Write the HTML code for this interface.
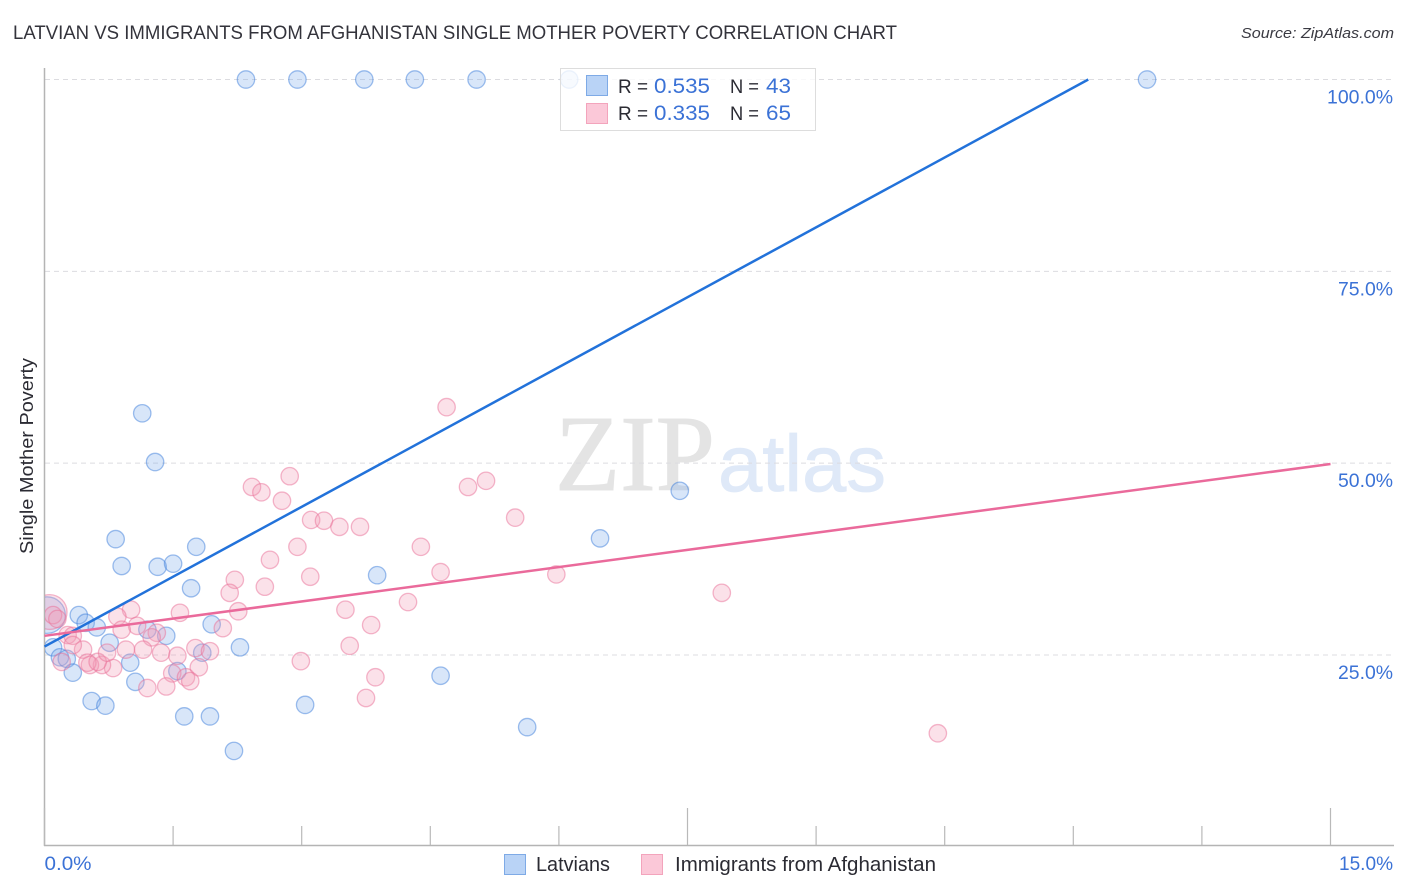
<!DOCTYPE html>
<html>
<head>
<meta charset="utf-8">
<title>Latvian vs Immigrants from Afghanistan Single Mother Poverty Correlation Chart</title>
<style>
html,body{margin:0;padding:0;background:#fff;}
svg{display:block;font-family:"Liberation Sans",sans-serif;}
</style>
</head>
<body>
<svg id="chart" xmlns="http://www.w3.org/2000/svg" width="1406" height="892" viewBox="0 0 1406 892">
  <rect x="0" y="0" width="1406" height="892" fill="#ffffff"/>
  <text x="13" y="39" font-size="19" fill="#33333b" textLength="884" lengthAdjust="spacingAndGlyphs">LATVIAN VS IMMIGRANTS FROM AFGHANISTAN SINGLE MOTHER POVERTY CORRELATION CHART</text>
  <text x="1394" y="38" font-size="15" font-style="italic" fill="#3a3a42" text-anchor="end" textLength="153" lengthAdjust="spacingAndGlyphs">Source: ZipAtlas.com</text>
  <text transform="translate(33,456) rotate(-90)" font-size="18.5" fill="#2b2b33" text-anchor="middle" textLength="196" lengthAdjust="spacingAndGlyphs">Single Mother Poverty</text>
  <g>
    <text x="555" y="490" font-family="'Liberation Serif',serif" font-size="108" fill="#e4e4e4" stroke="#e4e4e4" stroke-width="1" textLength="160" lengthAdjust="spacingAndGlyphs">ZIP</text>
    <text x="718" y="491" font-family="'Liberation Sans',sans-serif" font-size="80" fill="#dfe9f8" stroke="#dfe9f8" stroke-width="0.8" textLength="168" lengthAdjust="spacingAndGlyphs">atlas</text>
  </g>
  <g id="grid"></g>
  <g id="axes"></g>
  <defs>
    <clipPath id="plot-clip"><rect x="45" y="60" width="1349" height="785"/></clipPath>
  </defs>
  <g id="points" clip-path="url(#plot-clip)"></g>
  <g id="lines"></g>
  <g>
    <rect x="560.5" y="68.5" width="255" height="62" fill="#ffffff" fill-opacity="0.8" stroke="#dddddd" stroke-width="1"/>
    <rect x="586.5" y="75.5" width="21" height="20" fill="#b9d3f6" stroke="#7eaae6" stroke-width="1"/>
    <rect x="586.5" y="103.5" width="21" height="20" fill="#fbc8d8" stroke="#f3a4bc" stroke-width="1"/>
    <text x="618" y="93" font-size="19.5" fill="#2b2b33" textLength="30" lengthAdjust="spacingAndGlyphs">R =</text>
    <text x="654" y="93" font-size="21" fill="#3b72d6" textLength="56" lengthAdjust="spacingAndGlyphs">0.535</text>
    <text x="730" y="93" font-size="19.5" fill="#2b2b33" textLength="29" lengthAdjust="spacingAndGlyphs">N =</text>
    <text x="766" y="93" font-size="21" fill="#3b72d6" textLength="25" lengthAdjust="spacingAndGlyphs">43</text>
    <text x="618" y="120" font-size="19.5" fill="#2b2b33" textLength="30" lengthAdjust="spacingAndGlyphs">R =</text>
    <text x="654" y="120" font-size="21" fill="#3b72d6" textLength="56" lengthAdjust="spacingAndGlyphs">0.335</text>
    <text x="730" y="120" font-size="19.5" fill="#2b2b33" textLength="29" lengthAdjust="spacingAndGlyphs">N =</text>
    <text x="766" y="120" font-size="21" fill="#3b72d6" textLength="25" lengthAdjust="spacingAndGlyphs">65</text>
  </g>
  <g>
    <g>
      <rect x="504.5" y="854.5" width="21" height="20" fill="#b9d3f6" stroke="#7eaae6" stroke-width="1"/>
      <text x="536" y="871" font-size="20" fill="#2b2b33" textLength="74" lengthAdjust="spacingAndGlyphs">Latvians</text>
    </g>
    <g>
      <rect x="641.5" y="854.5" width="21" height="20" fill="#fbc8d8" stroke="#f3a4bc" stroke-width="1"/>
      <text x="675" y="871" font-size="20" fill="#2b2b33" textLength="261" lengthAdjust="spacingAndGlyphs">Immigrants from Afghanistan</text>
    </g>
  </g>
</svg>
<script>
const yTickValues = [25, 50, 75, 100];
const yTickLabels = ["25.0%", "50.0%", "75.0%", "100.0%"];
const xTickValues = [0, 1.5, 3, 4.5, 6, 7.5, 9, 10.5, 12, 13.5, 15];
const xMajorTicks = [0, 7.5, 15];
const xEndValues = [0, 15];
const xEndLabels = ["0.0%", "15.0%"];

const latvianX = [2.35,2.95,3.73,4.32,5.04,6.12,12.86,1.14,1.29,7.41,0.83,6.48,0.90,1.32,1.50,1.77,3.88,1.71,0.40,0.48,0.61,1.95,1.20,1.42,0.76,2.28,0.10,0.18,0.26,0.33,1.84,1.00,1.55,4.62,1.06,0.55,0.71,3.04,1.63,1.93,5.63,2.21,0.03];
const latvianY = [100,100,100,100,100,100,100,56.5,50.15,46.4,40.1,40.2,36.6,36.5,36.9,39.1,35.4,33.7,30.2,29.2,28.6,29.0,28.3,27.5,26.6,26.0,26.0,24.7,24.5,22.7,25.3,24.0,22.9,22.3,21.5,19.0,18.4,18.5,17.0,17.0,15.6,12.5,30.2];
const latvianSize = [1,1,1,1,1,1,1,1,1,1,1,1,1,1,1,1,1,1,1,1,1,1,1,1,1,1,1,1,1,1,1,1,1,1,1,1,1,1,1,1,1,1,2.1];

const immigrantX = [4.69,2.86,2.42,2.53,2.77,4.94,5.15,5.49,3.11,3.26,3.44,3.68,2.95,4.39,2.63,4.62,5.97,2.22,3.10,2.57,2.16,7.90,4.24,3.51,2.26,1.01,1.58,0.85,3.81,1.08,0.90,2.08,1.31,1.25,3.56,2.99,3.86,3.75,10.42,0.06,0.10,0.15,0.27,0.33,0.45,0.33,0.95,1.15,1.36,1.55,1.76,1.93,1.80,1.49,1.65,1.70,1.42,1.20,0.80,0.67,0.53,0.50,0.62,0.73,0.20];
const immigrantY = [57.3,48.3,46.9,46.2,45.1,46.9,47.7,42.9,42.6,42.5,41.7,41.7,39.1,39.1,37.4,35.8,35.5,34.8,35.2,33.9,33.1,33.1,31.9,30.9,30.7,30.9,30.5,30.0,28.9,28.8,28.3,28.5,27.9,27.3,26.2,24.2,22.1,19.4,14.8,30.6,30.2,29.7,27.6,27.5,25.7,26.3,25.7,25.7,25.3,24.9,25.9,25.5,23.4,22.6,22.1,21.6,20.9,20.7,23.3,23.7,23.7,24.0,24.1,25.3,24.1];
const immigrantSize = [1,1,1,1,1,1,1,1,1,1,1,1,1,1,1,1,1,1,1,1,1,1,1,1,1,1,1,1,1,1,1,1,1,1,1,1,1,1,1,2,1,1,1,1,1,1,1,1,1,1,1,1,1,1,1,1,1,1,1,1,1,1,1,1,1];

const latvianTrend = [26.1, 6.07];
const immigrantTrend = [27.5, 1.493];

const NS = "http://www.w3.org/2000/svg";
const xScale = v => 44.5 + v * (1286 / 15);
const yScale = v => 79.5 + (100 - v) * (575.5 / 75);
function mk(parent, tag, attrs) {
  const el = document.createElementNS(NS, tag);
  for (const k in attrs) el.setAttribute(k, attrs[k]);
  parent.appendChild(el);
  return el;
}

const grid = document.getElementById("grid");
yTickValues.forEach((v, i) => {
  const line = mk(grid, "line", {x1: 45, x2: 1393, y1: yScale(v), y2: yScale(v), stroke: "#dcdce0", "stroke-width": 1, "stroke-dasharray": "5 4"});
  
  
  const t = mk(grid, "text", {x: 1393, y: yScale(v) + 24, "font-size": 19, fill: "#3b72d6", "text-anchor": "end", textLength: yTickLabels[i].length * 11, lengthAdjust: "spacingAndGlyphs"});
  t.textContent = yTickLabels[i];
  
  
});

const axes = document.getElementById("axes");
const yAxis = mk(axes, "line", {x1: 44.5, x2: 44.5, y1: 68, y2: 846, stroke: "#b4b4b4", "stroke-width": 1.5});


const xAxis = mk(axes, "line", {x1: 44, x2: 1394, y1: 845.5, y2: 845.5, stroke: "#b4b4b4", "stroke-width": 1.5});


xTickValues.forEach(v => {
  const top = xMajorTicks.includes(v) ? 808 : 826;
  const tick = mk(axes, "line", {x1: xScale(v), x2: xScale(v), y1: top, y2: 845, stroke: "#b9b9b9", "stroke-width": 1.2});
  
  
});
xEndValues.forEach((v, i) => {
  const first = i === 0;
  const t = mk(axes, "text", {x: first ? xScale(v) : 1393, y: 870, "font-size": 19, fill: "#3b72d6", "text-anchor": first ? "start" : "end", textLength: first ? 47 : 54, lengthAdjust: "spacingAndGlyphs"});
  t.textContent = xEndLabels[i];
  
  
});

const points = document.getElementById("points");
function drawSeries(xs, ys, sizes, fill, stroke, name) {
  const g = mk(points, "g", {});
  
  
  xs.forEach((x, i) => {
    const c = mk(g, "circle", {cx: xScale(x), cy: yScale(ys[i]), r: 8.7 * sizes[i], fill: fill, "fill-opacity": 0.3, stroke: stroke, "stroke-opacity": 0.5, "stroke-width": 1.3});
    
    
  });
}
drawSeries(latvianX, latvianY, latvianSize, "#7fabeb", "#3f80dc", "latvians-points");
drawSeries(immigrantX, immigrantY, immigrantSize, "#f39ab7", "#ea7097", "immigrants-points");

const lines = document.getElementById("lines");
function drawTrend(trend, color, name) {
  const a = trend[0], b = trend[1];
  const endX = Math.min(15, (100 - a) / b);
  const l = mk(lines, "line", {x1: xScale(0), y1: yScale(a), x2: xScale(endX), y2: yScale(a + b * endX), stroke: color, "stroke-width": 2.5});
  
  
}
drawTrend(latvianTrend, "#2272da", "latvians-trend-line");
drawTrend(immigrantTrend, "#ea6a9b", "immigrants-trend-line");
</script>
</body>
</html>
